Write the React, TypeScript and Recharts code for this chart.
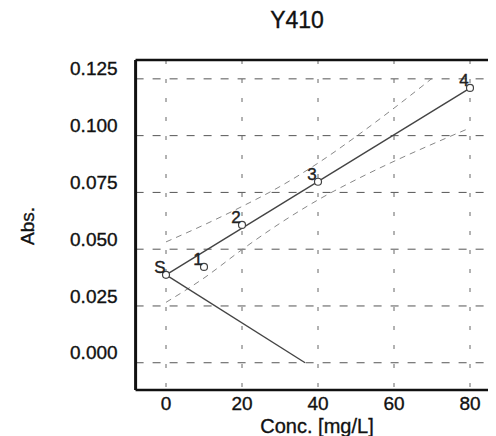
import React from 'react';
import { ComposedChart, Line, XAxis, YAxis, CartesianGrid, ReferenceLine, LabelList } from 'recharts';

// axis ticks
const xTicks = [0, 20, 40, 60, 80];
const yTicks = [0, 0.025, 0.05, 0.075, 0.1, 0.125];

// measured points (S = sample, 1..4 = additions)
const pointNames = ['S', '1', '2', '3', '4'];
const pointConc = [0, 10, 20, 40, 80];
const pointAbs = [0.0387, 0.0422, 0.0607, 0.0797, 0.121];

// regression line
const fitConc = [0, 80];
const fitAbs = [0.0387, 0.1209];

// confidence band
const bandConc = [0, 10, 20, 30, 40, 50, 60, 70, 80];
const upperAbs = [0.0532, 0.0607, 0.0688, 0.0776, 0.0879, 0.0996, 0.1121, 0.1252, null];
const lowerAbs = [0.0266, 0.0373, 0.0498, 0.0614, 0.0717, 0.0806, 0.0887, 0.0962, 0.1034];

// extrapolation line to the zero crossing
const mirrorConc = [0, 36.6];
const mirrorAbs = [0.0387, 0];

const FONT = "'Liberation Sans', Arial, sans-serif";
const INK = '#111';

const toRows = (xs: number[], ys: (number | null)[]) => xs.map((c, i) => ({ conc: c, abs: ys[i] }));

const points = pointConc.map((c, i) => ({ conc: c, abs: pointAbs[i], name: pointNames[i] }));
const fitData = toRows(fitConc, fitAbs);
const upperData = toRows(bandConc, upperAbs);
const lowerData = toRows(bandConc, lowerAbs);
const mirrorData = toRows(mirrorConc, mirrorAbs);

const YTick = ({ x, y, payload }: any) => (
  <text x={x} y={y - 3.4} textAnchor="end" fontSize={19} fill={INK} stroke={INK} strokeWidth={0.35} fontFamily={FONT}>
    {Number(payload.value).toFixed(3)}
  </text>
);

const XTick = ({ x, y, payload }: any) => (
  <text x={x} y={y + 19.8} textAnchor="middle" fontSize={19} fill={INK} stroke={INK} strokeWidth={0.35} fontFamily={FONT}>
    {payload.value}
  </text>
);

const PointLabel = ({ x, y, value }: any) => (
  <text x={x - 6} y={y - 2} textAnchor="middle" fontSize={17} fill="#222" stroke="#222" strokeWidth={0.4} fontFamily={FONT}>
    {value}
  </text>
);

const textStroke = { WebkitTextStroke: '0.35px #111' } as React.CSSProperties;

const App: React.FC = () => {
  return (
    <div style={{ position: 'relative', width: 488, height: 428, overflow: 'hidden', fontFamily: FONT, color: INK }}>
      <div style={{ position: 'absolute', left: 289, top: 1, transform: 'translateX(-50%)', fontSize: 23, lineHeight: 1, ...textStroke }}>
        Y410
      </div>
      <div
        style={{
          position: 'absolute',
          left: 19,
          top: 218,
          transform: 'translate(-50%, -50%) rotate(-90deg)',
          fontSize: 19,
          lineHeight: 1,
          whiteSpace: 'nowrap',
          ...textStroke,
        }}
      >
        Abs.
      </div>
      <div
        style={{
          position: 'absolute',
          left: 309,
          top: 408,
          transform: 'translateX(-50%)',
          fontSize: 20,
          lineHeight: 1,
          whiteSpace: 'nowrap',
          ...textStroke,
        }}
      >
        Conc. [mg/L]
      </div>

      <div style={{ position: 'absolute', left: 0, top: 0 }}>
        <ComposedChart width={510} height={428} margin={{ top: 52, right: 10, bottom: 16, left: 67.6 }}>
          <CartesianGrid horizontal vertical={false} stroke="#555" strokeDasharray="8 9" />
          <CartesianGrid horizontal={false} vertical stroke="#666" strokeDasharray="4 15" />
          <XAxis
            type="number"
            dataKey="conc"
            domain={[-8, 90]}
            ticks={xTicks}
            allowDataOverflow
            height={30}
            tickSize={0}
            tickMargin={0}
            tickLine={false}
            tick={<XTick />}
            axisLine={{ stroke: '#111', strokeWidth: 2.5 }}
          />
          <YAxis
            type="number"
            dataKey="abs"
            domain={[-0.012, 0.1333]}
            ticks={yTicks}
            allowDataOverflow
            width={60}
            tickSize={10}
            tickMargin={8}
            tickLine={false}
            tick={<YTick />}
            axisLine={{ stroke: '#111', strokeWidth: 3 }}
          />
          <ReferenceLine y={0.1333} stroke="#111" strokeWidth={2.5} />

          <Line data={upperData} dataKey="abs" type="monotone" stroke="#888" strokeWidth={1} strokeDasharray="6 5" dot={false} isAnimationActive={false} />
          <Line data={lowerData} dataKey="abs" type="monotone" stroke="#888" strokeWidth={1} strokeDasharray="6 5" dot={false} isAnimationActive={false} />
          <Line data={mirrorData} dataKey="abs" type="linear" stroke="#444" strokeWidth={1.4} dot={false} isAnimationActive={false} />
          <Line data={fitData} dataKey="abs" type="linear" stroke="#444" strokeWidth={1.4} dot={false} isAnimationActive={false} />
          <Line
            data={points}
            dataKey="abs"
            stroke="none"
            dot={{ r: 3.5, stroke: '#444', strokeWidth: 1.2, fill: '#fff' }}
            isAnimationActive={false}
          >
            <LabelList dataKey="name" content={<PointLabel />} />
          </Line>
        </ComposedChart>
      </div>
    </div>
  );
};

export default App;
